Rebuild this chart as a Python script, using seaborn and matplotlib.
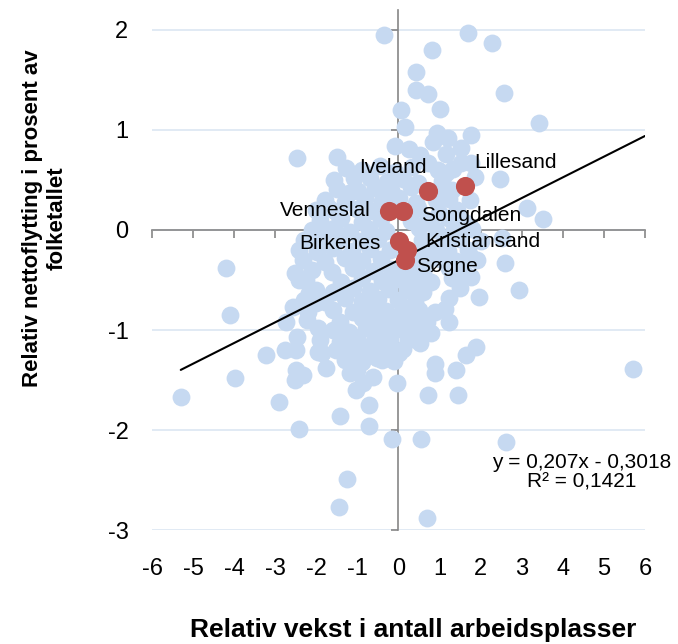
import matplotlib
matplotlib.use("Agg")
import matplotlib.pyplot as plt
import pandas as pd
import seaborn as sns

# ---- values ----
upper_x = [-0.36, 1.70, 2.27, 0.82, 0.43, 0.42, 0.72, 2.56, 0.07, 1.00, 3.41, 0.15,
           0.94, 1.21, 1.77, 0.84, -0.09, 0.25, 1.51, 1.16, -2.48, -1.50, 0.53, 1.53,
           2.48, -1.09, -1.20, -1.69, 3.13, 3.51, -1.82, 0.73, 1.16, 1.77]
upper_y = [1.95, 1.97, 1.87, 1.80, 1.58, 1.40, 1.36, 1.37, 1.20, 1.21, 1.07, 1.03,
           0.97, 0.92, 0.95, 0.88, 0.84, 0.81, 0.82, 0.76, 0.72, 0.73, 0.75, 0.67,
           0.51, 0.52, 0.37, 0.22, 0.22, 0.11, -0.03, 0.67, 0.57, 0.67]

right_x = [2.53, 2.60, 2.94, 1.95, 1.89, 1.80, 1.77, 1.73, 1.14, 1.24, 0.80, 0.52,
           1.65, 0.90, 0.88, 1.40, 5.70, 0.02, -0.04, 0.71, 1.46]
right_y = [-0.08, -0.33, -0.60, -0.67, -1.17, -0.28, -0.47, 0.30, -0.79, -0.92, -1.03, -1.13,
           -1.25, -1.34, -1.43, -1.40, -1.39, -1.23, -1.53, -1.65, -1.65]

left_x = [-4.21, -4.11, -5.29, -3.99, -2.90, -2.43, -3.22, -2.77, -2.49, -2.46, -2.73,
          -2.58, -2.21, -1.97, -1.97, -2.49, -2.33, -2.53, -2.25, -2.53, -2.17, -2.00]
left_y = [-0.38, -0.85, -1.67, -1.48, -1.72, -1.99, -1.25, -1.20, -1.20, -1.07, -0.92,
          -0.77, -0.82, -0.98, -1.22, -1.40, -1.45, -1.50, -0.50, -0.43, -0.63, -0.73]

lower_x = [-1.42, -0.71, -0.71, -0.15, 0.54, 2.61, -1.26, -1.46, 0.70, -1.03, -0.87,
           -1.85, -1.76, -1.19, -0.63, -1.00, -0.39, -1.36, -0.54]
lower_y = [-1.86, -1.75, -1.96, -2.09, -2.09, -2.12, -2.49, -2.77, -2.88, -1.60, -1.53,
           -1.23, -1.38, -1.43, -1.47, -1.40, -1.30, -1.17, -1.15]

# dense middle of the cloud, one line per band of y
core_x = [
    -1.28, -0.88, -0.46, -0.08, 0.32, 0.95, 1.32,
    -1.58, -0.70, -0.28, 0.12, 0.48, 1.05, 1.86,
    -1.50, -0.98, -0.58, -0.18, 0.30, 1.00, 1.30,
    -1.80, -1.30, -0.82, -0.40, 0.02, 0.42, 0.92, 1.22,
    -2.02, -1.52, -1.02, -0.62, 0.48, 0.98, 1.42,
    -1.90, -1.40, -0.90, -0.42, 0.30, 0.70, 1.20, 1.60,
    -2.10, -1.58, -1.18, -0.72, -0.30, 0.50, 0.92, 1.32, 1.78,
    -2.30, -1.88, -1.40, -0.92, -0.50, 0.58, 1.10, 1.50, 2.02,
    -2.42, -1.98, -1.60, -1.12, -0.70, -0.20, 0.42, 0.80, 1.20, 1.70,
    -2.32, -1.80, -1.30, -0.88, -0.42, 0.32, 0.68, 1.02, 1.40, 1.92,
    -2.10, -1.62, -1.10, -0.60, -0.18, 0.20, 0.60, 1.22, 1.58,
    -2.42, -1.40, -0.90, -0.40, 0.00, 0.40, 0.78, 1.30,
    -2.00, -1.60, -1.10, -0.70, -0.22, 0.20, 0.60, 1.50,
    -2.30, -1.80, -1.30, -0.90, -0.50, 0.00, 0.40, 1.22,
    -1.60, -1.10, -0.70, -0.30, 0.10, 0.50, 0.90,
    -2.22, -1.42, -0.90, -0.50, -0.10, 0.30, 0.70,
    -1.60, -1.20, -0.80, -0.40, 0.00, 0.40,
    -1.90, -1.42, -1.00, -0.60, -0.20, 0.22,
    -1.52, -1.10, -0.80, -0.30, 0.12,
    -1.30, -0.90, -0.52, -0.10,
]
core_y = [
    0.62, 0.60, 0.64, 0.58, 0.63, 0.60, 0.61,
    0.50, 0.52, 0.48, 0.51, 0.47, 0.49, 0.53,
    0.41, 0.39, 0.42, 0.40, 0.43, 0.38, 0.40,
    0.30, 0.28, 0.31, 0.29, 0.32, 0.27, 0.30, 0.31,
    0.20, 0.18, 0.21, 0.19, 0.22, 0.17, 0.20,
    0.10, 0.12, 0.08, 0.11, 0.09, 0.10, 0.12, 0.08,
    0.00, 0.02, -0.02, 0.01, -0.01, 0.02, 0.00, -0.02, 0.01,
    -0.10, -0.12, -0.08, -0.11, -0.09, -0.10, -0.12, -0.09, -0.11,
    -0.20, -0.22, -0.18, -0.21, -0.19, -0.20, -0.22, -0.18, -0.21, -0.20,
    -0.30, -0.32, -0.28, -0.31, -0.29, -0.30, -0.32, -0.29, -0.31, -0.30,
    -0.40, -0.42, -0.38, -0.41, -0.39, -0.40, -0.42, -0.38, -0.41,
    -0.50, -0.52, -0.48, -0.51, -0.49, -0.50, -0.52, -0.48,
    -0.60, -0.62, -0.58, -0.61, -0.59, -0.60, -0.62, -0.58,
    -0.70, -0.72, -0.68, -0.71, -0.69, -0.70, -0.72, -0.68,
    -0.80, -0.82, -0.78, -0.81, -0.79, -0.80, -0.82,
    -0.90, -0.92, -0.88, -0.91, -0.89, -0.90, -0.92,
    -1.00, -1.02, -0.98, -1.01, -0.99, -1.00,
    -1.10, -1.12, -1.08, -1.11, -1.09, -1.10,
    -1.20, -1.22, -1.18, -1.21, -1.19,
    -1.30, -1.32, -1.28, -1.31,
]

town_names = ["Iveland", "Lillesand", "Venneslal", "Songdalen", "Birkenes", "Kristiansand", "Søgne"]
town_x = [0.71, 1.61, -0.24, 0.12, 0.01, 0.20, 0.15]
town_y = [0.39, 0.44, 0.19, 0.19, -0.11, -0.20, -0.30]

trend_slope = 0.207
trend_intercept = -0.3018
trend_r2 = 0.1421
trend_x = [-5.3, 6.0]

x_ticks = list(range(-6, 7))
y_ticks = list(range(-3, 3))

# label offsets in points and alignment, Excel-style data labels
label_offsets = {
    "Iveland": (-25, 17, "center"),
    "Lillesand": (7, 17, "left"),
    "Venneslal": (-13, 0, "right"),
    "Songdalen": (13, -3, "left"),
    "Birkenes": (-13, -2, "right"),
    "Kristiansand": (13, 6, "left"),
    "Søgne": (8, -5, "left"),
}

sns.set_style("white")
plt.rcParams["font.family"] = ["Liberation Sans", "DejaVu Sans"]
plt.rcParams["axes.unicode_minus"] = False
plt.rcParams["text.color"] = "black"
plt.rcParams["xtick.labelcolor"] = "black"
plt.rcParams["ytick.labelcolor"] = "black"
plt.rcParams["axes.labelcolor"] = "black"

axis_grey = "#868686"

fig = plt.figure(figsize=(6.78, 6.44), dpi=100)
ax = fig.add_axes([0.2242, 0.177, 0.7271, 0.8075])

cloud = pd.DataFrame({
    "x": upper_x + right_x + left_x + lower_x + core_x,
    "y": upper_y + right_y + left_y + lower_y + core_y,
})
towns = pd.DataFrame({"x": town_x, "y": town_y, "name": town_names})
trend = pd.DataFrame({"x": trend_x, "y": [trend_slope * v + trend_intercept for v in trend_x]})

sns.scatterplot(data=cloud, x="x", y="y", ax=ax, color="#c6d9f1", s=165,
                linewidth=0, alpha=1, zorder=2)
sns.lineplot(data=trend, x="x", y="y", ax=ax, color="black", lw=1.5, zorder=3)
sns.scatterplot(data=towns, x="x", y="y", ax=ax, color="#c0504d", s=190,
                linewidth=0, alpha=1, zorder=4)

for name, x, y in zip(town_names, town_x, town_y):
    dx, dy, ha = label_offsets[name]
    ax.annotate(name, (x, y), xytext=(dx, dy), textcoords="offset points",
                ha=ha, va="center", fontsize=15, color="black", zorder=5)

eq = (f"y = {trend_slope:.3f}x - {abs(trend_intercept):.4f}".replace(".", ",")
      + "\n" + f"R² = {trend_r2:.4f}".replace(".", ","))
ax.text(4.45, -2.42, eq, ha="center", va="center", fontsize=15,
        linespacing=1.0, zorder=5)

# axes crossing at the origin, tick labels kept at the outer edges
ax.set_xlim(-6, 6)
ax.set_ylim(-3, 2.2)
ax.set_xlabel("")
ax.set_ylabel("")
for side in ["top", "right"]:
    ax.spines[side].set_visible(False)
for side in ["left", "bottom"]:
    ax.spines[side].set_position(("data", 0))
    ax.spines[side].set_color(axis_grey)
    ax.spines[side].set_linewidth(1.2)
    ax.spines[side].set_zorder(1)
ax.set_xticks(x_ticks)
ax.set_yticks(y_ticks)
ax.tick_params(axis="x", bottom=True, direction="out", length=6, width=1.2,
               color=axis_grey, labelbottom=False)
ax.tick_params(axis="y", left=True, direction="out", length=5, width=1.2,
               color=axis_grey, labelleft=False)
ax.yaxis.grid(True, color="#dce6f2", lw=1.2)
ax.xaxis.grid(False)
ax.set_axisbelow(True)

sx = ax.secondary_xaxis(0)
sx.set_ticks(x_ticks)
sx.spines["bottom"].set_visible(False)
sx.tick_params(length=0, labelsize=17, pad=20, labelcolor="black")
sx.set_xlabel("Relativ vekst i antall arbeidsplasser", fontsize=19, fontweight="bold")
sx.xaxis.set_label_coords(0.53, -0.192, transform=ax.transAxes)
sx.xaxis.label.set_va("center")

sy = ax.secondary_yaxis(0)
sy.set_ticks(y_ticks)
sy.spines["left"].set_visible(False)
sy.tick_params(length=0, labelsize=17, pad=17, labelcolor="black")
sy.set_ylabel("Relativ nettoflytting i prosent av\nfolketallet", fontsize=16, fontweight="bold")
sy.yaxis.set_label_coords(-0.218, 0.60, transform=ax.transAxes)
sy.yaxis.label.set_va("center")
sy.yaxis.label.set_ha("center")

fig.savefig("out.png", dpi=100)
